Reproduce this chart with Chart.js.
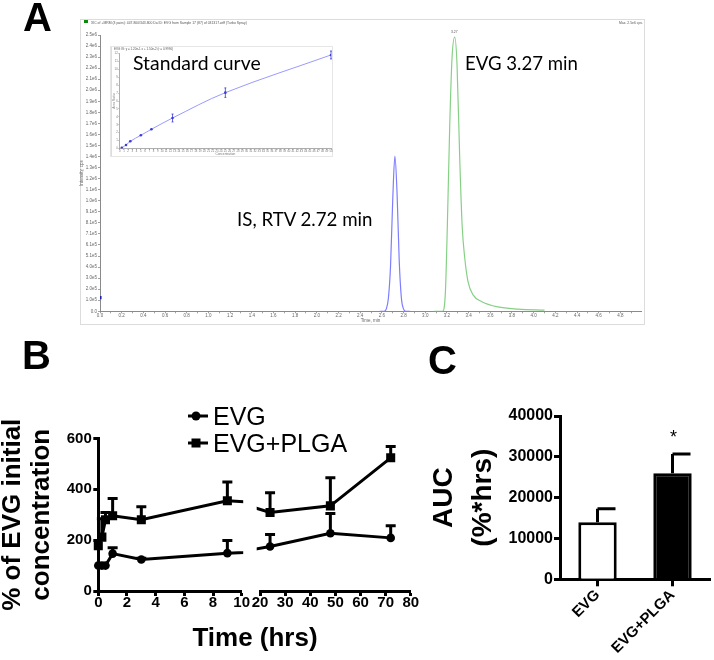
<!DOCTYPE html>
<html><head><meta charset="utf-8">
<script src="https://cdn.jsdelivr.net/npm/chart.js@4.4.1/dist/chart.umd.min.js"></script>
<style>
html,body{margin:0;padding:0;background:#fff;}
body{width:714px;height:660px;position:relative;overflow:hidden;font-family:"Liberation Sans",Arial,sans-serif;}
canvas.full{position:absolute;left:0;top:0;}
.t{position:absolute;white-space:nowrap;line-height:1;}
.tiny{position:absolute;white-space:nowrap;line-height:1;font-family:"Liberation Sans",Arial,sans-serif;color:#555;font-size:10px;transform-origin:left top;}
.lbl{font-weight:bold;font-size:40px;color:#000;}
.ann{font-family:Lato,"Open Sans",sans-serif;font-size:20px;color:#000;transform-origin:left top;}
</style></head><body>
<div style="position:absolute;left:80px;top:19px;width:563px;height:304px;border:1px solid #dcdcdc;"></div>
<div style="position:absolute;left:84px;top:20px;width:4px;height:3px;background:#0a8a0a;"></div>
<canvas id="cA" class="full" width="714" height="660"></canvas>
<div style="position:absolute;left:110px;top:46px;width:221px;height:109px;border:1px solid #e6e6e6;background:#fff;"></div>
<div style="position:absolute;left:111px;top:47px;width:1px;height:109px;background:#f2dcae;"></div>
<canvas id="cIn" class="full" width="714" height="660"></canvas>
<canvas id="cB1" class="full" width="714" height="660"></canvas>
<canvas id="cB2" class="full" width="714" height="660"></canvas>
<canvas id="cC" class="full" width="714" height="660"></canvas>

<div class="t lbl" style="left:23px;top:-3px;">A</div>
<div class="t lbl" style="left:22px;top:335px;">B</div>
<div class="t lbl" style="left:428px;top:340px;">C</div>

<div class="tiny" style="left:91px;top:21px;transform:scale(0.34);">XIC of +MRM (3 pairs): 447.800/343.800 Da ID: EVG from Sample 17 (87) of 031317.wiff (Turbo Spray)</div>
<div class="tiny" style="left:619px;top:21px;transform:scale(0.34);">Max. 2.5e6 cps.</div>
<div class="tiny" style="left:451px;top:30px;transform:scale(0.34);">3.27</div>
<div class="tiny" style="left:114px;top:47.5px;transform:scale(0.3);">EVG IS: y = 1.20e-1 x + 1.50e-2 (r = 0.9990)</div>

<div class="t ann" style="left:133px;top:51.5px;transform:scaleX(0.97);">Standard curve</div>
<div class="t ann" style="left:464.5px;top:51.5px;transform:scaleX(0.93);">EVG 3.27 min</div>
<div class="t ann" style="left:237px;top:207.5px;transform:scaleX(0.935);">IS, RTV 2.72 min</div>

<svg style="position:absolute;left:185px;top:406px" width="26" height="46">
  <line x1="3" y1="10" x2="23" y2="10" stroke="#000" stroke-width="3"/>
  <circle cx="11" cy="10" r="4.5" fill="#000"/>
  <line x1="3" y1="37" x2="23" y2="37" stroke="#000" stroke-width="3"/>
  <rect x="6.5" y="32.5" width="9" height="9" fill="#000"/>
</svg>
<div class="t" style="left:213px;top:404px;font-size:25px;">EVG</div>
<div class="t" style="left:213px;top:431px;font-size:25px;">EVG+PLGA</div>
<div class="t" style="left:155px;top:624px;width:200px;text-align:center;font-size:26px;font-weight:bold;">Time (hrs)</div>
<div class="t" style="left:670px;top:428px;font-size:18px;">*</div>

<script>
// ---------- Panel A: chromatogram ----------
const isTime = [2.58, 2.62, 2.64, 2.66, 2.68, 2.70, 2.72, 2.74, 2.76, 2.78, 2.80, 2.82, 2.86];
const isIntensity = [0, 0, 0.02e6, 0.12e6, 0.42e6, 1.02e6, 1.42e6, 1.08e6, 0.46e6, 0.12e6, 0.02e6, 0, 0];
const evgTime = [3.08, 3.16, 3.186, 3.204, 3.226, 3.247, 3.272, 3.293, 3.318, 3.34, 3.364, 3.395, 3.441, 3.518, 3.67, 3.856, 4.10];
const evgIntensity = [0, 0, 0.18e6, 0.79e6, 1.71e6, 2.32e6, 2.51e6, 2.26e6, 1.40e6, 0.79e6, 0.49e6, 0.27e6, 0.15e6, 0.09e6, 0.04e6, 0.02e6, 0.01e6];
const markerTime = [0];
const markerIntensity = [1.25e5];

// ---------- Panel A inset: standard curve ----------
const stdConc = [0.5, 1.5, 2.5, 5, 7.5, 12.5, 25, 50];
const stdRatio = [0.10, 0.44, 0.91, 1.67, 2.43, 3.86, 7.07, 11.84];
const stdErr = [0, 0, 0, 0, 0, 0.5, 0.6, 0.5];

// ---------- Panel B: % of EVG initial concentration ----------
const timeHrs = [0, 0.25, 0.5, 1, 3, 9, 24, 48, 72];
const evgPct = [100, 100, 100, 147, 124, 149, 175, 227, 209];
const evgSD = [0, 0, 0, 23, 5, 50, 47, 78, 48];
const plgaPct = [178, 212, 280, 296, 280, 355, 309, 335, 524];
const plgaSD = [0, 72, 29, 68, 51, 74, 78, 111, 45];
const bYTicks = [0, 200, 400, 600];
const bLeftXTicks = [0, 2, 4, 6, 8, 10];
const bRightXTicks = [20, 30, 40, 50, 60, 70, 80];

// ---------- Panel C: AUC ----------
const aucGroups = ['EVG', 'EVG+PLGA'];
const aucMean = [14000, 26000];
const aucSD = [3300, 4700];
const cYTicks = [0, 10000, 20000, 30000, 40000];

const W = 714, H = 660;
const FONT = "'Liberation Sans', Arial, sans-serif";

function pts(xs, ys) { return xs.map((x, i) => ({x: x, y: ys[i]})); }
function pad(l, t, r, b, yW, xH) {
  return {padding: {left: l - yW, top: t, right: W - r, bottom: H - b - xH}};
}
function fixTicks(list) { return s => { s.ticks = list.map(v => ({value: v})); }; }

const errorBars = {
  id: 'errorBars',
  afterDatasetsDraw(chart) {
    const ctx = chart.ctx, area = chart.chartArea;
    chart.data.datasets.forEach((ds, i) => {
      if (!ds.errorUp) return;
      const meta = chart.getDatasetMeta(i);
      const ys = chart.scales[meta.yAxisID];
      const o = ds.errorStyle || {};
      ctx.save();
      ctx.strokeStyle = o.color || '#000';
      ctx.lineWidth = o.width || 3;
      meta.data.forEach((el, j) => {
        const up = ds.errorUp[j] || 0;
        const lo = ds.errorDown ? (ds.errorDown[j] || 0) : 0;
        if (!up && !lo) return;
        if (el.x < area.left - 1 || el.x > area.right + 1) return;
        const v = meta.controller.getParsed(j).y;
        const yTop = ys.getPixelForValue(v + up);
        const yBot = ys.getPixelForValue(v - lo);
        const cap = o.cap || 10;
        const cl = o.capAlign === 'right' ? 0 : cap / 2;
        const cr = o.capAlign === 'right' ? cap : cap / 2;
        ctx.beginPath();
        ctx.moveTo(el.x, yBot); ctx.lineTo(el.x, yTop);
        if (up) { ctx.moveTo(el.x - cl, yTop); ctx.lineTo(el.x + cr, yTop); }
        if (lo) { ctx.moveTo(el.x - cl, yBot); ctx.lineTo(el.x + cr, yBot); }
        ctx.stroke();
      });
      ctx.restore();
    });
  }
};
Chart.register(errorBars);

const base = {responsive: false, animation: false, devicePixelRatio: 1,
  plugins: {legend: {display: false}, tooltip: {enabled: false}}};

// ----- Chart A -----
const aGray = '#8a8a8a';
new Chart(document.getElementById('cA'), {
  type: 'line',
  data: {datasets: [
    {data: pts(isTime, isIntensity), borderColor: '#7d7dff', borderWidth: 1.2, pointRadius: 0, cubicInterpolationMode: 'monotone'},
    {data: pts(evgTime, evgIntensity), borderColor: '#86d086', borderWidth: 1.2, pointRadius: 0, cubicInterpolationMode: 'monotone'},
    {data: pts(markerTime, markerIntensity), showLine: false, pointStyle: 'rect', pointRadius: 2.2, pointBackgroundColor: '#1c1caa', pointBorderWidth: 0}
  ]},
  options: Object.assign({}, base, {
    layout: pad(100, 35, 641, 311.3, 21, 12),
    scales: {
      x: {type: 'linear', min: 0, max: 4.99,
        afterFit: s => { s.height = 12; },
        border: {display: true, color: aGray, width: 1},
        grid: {display: true, drawOnChartArea: false, tickLength: 2, tickColor: aGray, tickWidth: 0.8},
        ticks: {stepSize: 0.1, includeBounds: false, autoSkip: false, maxRotation: 0, padding: 0,
          font: {size: 4.5, family: FONT}, color: '#666',
          callback: v => (Math.round(v * 10) % 2 === 0) ? v.toFixed(1) : ''},
        title: {display: true, text: 'Time, min', font: {size: 4.5, family: FONT}, color: '#666', padding: 0}
      },
      y: {min: 0, max: 2.53e6,
        afterFit: s => { s.width = 21; },
        border: {display: true, color: aGray, width: 1},
        grid: {display: true, drawOnChartArea: false, tickLength: 2, tickColor: aGray, tickWidth: 0.8},
        ticks: {stepSize: 1e5, includeBounds: false, autoSkip: false, padding: 1,
          font: {size: 4.5, family: FONT}, color: '#666',
          callback: v => v === 0 ? '0.0' : v.toExponential(1).replace('e+', 'e')},
        title: {display: true, text: 'Intensity, cps', font: {size: 4.5, family: FONT}, color: '#666', padding: 0}
      }
    }
  })
});

// ----- Inset -----
const inBlue = '#3a3ad6';
new Chart(document.getElementById('cIn'), {
  type: 'line',
  data: {datasets: [
    {data: pts(stdConc, stdRatio), borderColor: '#9a9aff', borderWidth: 1, tension: 0.35,
      pointRadius: 1.3, pointBackgroundColor: inBlue, pointBorderWidth: 0,
      errorUp: stdErr, errorDown: stdErr, errorStyle: {color: inBlue, width: 0.8, cap: 2}}
  ]},
  options: Object.assign({}, base, {
    layout: pad(119.7, 53.7, 331, 148.5, 8, 8),
    scales: {
      x: {type: 'linear', min: 0, max: 50,
        afterFit: s => { s.height = 8; },
        border: {display: true, color: '#999', width: 0.8},
        grid: {display: true, drawOnChartArea: false, tickLength: 1.5, tickColor: '#999', tickWidth: 0.6},
        ticks: {stepSize: 1, autoSkip: false, maxRotation: 0, padding: 0, font: {size: 2.8, family: FONT}, color: '#777'},
        title: {display: true, text: 'Concentration', font: {size: 3.2, family: FONT}, color: '#777', padding: 0}
      },
      y: {min: 0, max: 12,
        afterFit: s => { s.width = 8; },
        border: {display: true, color: '#999', width: 0.8},
        grid: {display: true, drawOnChartArea: false, tickLength: 1.5, tickColor: '#999', tickWidth: 0.6},
        ticks: {stepSize: 1, autoSkip: false, padding: 0.5, font: {size: 2.8, family: FONT}, color: '#777'},
        title: {display: true, text: 'Area Ratio', font: {size: 3.2, family: FONT}, color: '#777', padding: 0}
      }
    }
  })
});

// ----- Panel B -----
function bDatasets(clip) {
  return [
    {data: pts(timeHrs, evgPct), borderColor: '#000', borderWidth: 3, pointStyle: 'circle', pointRadius: 4.3,
      pointBackgroundColor: '#000', pointBorderWidth: 0, clip: clip, errorUp: evgSD, errorStyle: {cap: 10, width: 3}},
    {data: pts(timeHrs, plgaPct), borderColor: '#000', borderWidth: 3, pointStyle: 'rect', pointRadius: 6.4,
      pointBackgroundColor: '#000', pointBorderWidth: 0, clip: clip, errorUp: plgaSD, errorStyle: {cap: 10, width: 3}}
  ];
}
const prismTickFont = {size: 15, weight: 'bold', family: FONT};
function prismGrid(len) { return {display: true, drawOnChartArea: false, tickLength: len, tickColor: '#000', tickWidth: 3}; }
const prismBorder = {display: true, color: '#000', width: 3};

new Chart(document.getElementById('cB1'), {
  type: 'line',
  data: {datasets: bDatasets({left: 8, top: 8, right: 1.5, bottom: 8})},
  options: Object.assign({}, base, {
    layout: pad(98.3, 438.5, 241.7, 591, 98.3, 22),
    scales: {
      x: {type: 'linear', min: 0, max: 10, afterFit: s => { s.height = 22; }, afterBuildTicks: fixTicks(bLeftXTicks),
        border: prismBorder, grid: prismGrid(5),
        ticks: {autoSkip: false, maxRotation: 0, padding: -2, font: prismTickFont, color: '#000'}},
      y: {min: 0, max: 600, afterFit: s => { s.width = 98.3; }, afterBuildTicks: fixTicks(bYTicks),
        border: prismBorder, grid: prismGrid(5),
        ticks: {autoSkip: false, padding: 1.5, font: prismTickFont, color: '#000'},
        title: {display: true, text: ['% of EVG initial', 'concentration'], color: '#000',
          font: {size: 26, weight: 'bold', family: FONT, lineHeight: 1.12}, padding: {top: -1.5, bottom: 0}}}
    }
  })
});

new Chart(document.getElementById('cB2'), {
  type: 'line',
  data: {datasets: bDatasets({left: 3.3, top: 8, right: 8, bottom: 8})},
  options: Object.assign({}, base, {
    layout: pad(260, 438.5, 410.8, 591, 0, 22),
    scales: {
      x: {type: 'linear', min: 20, max: 80, afterFit: s => { s.height = 22; }, afterBuildTicks: fixTicks(bRightXTicks),
        border: prismBorder, grid: prismGrid(5),
        ticks: {autoSkip: false, maxRotation: 0, padding: -2, font: prismTickFont, color: '#000'}},
      y: {display: false, min: 0, max: 600}
    }
  })
});

// ----- Panel C -----
new Chart(document.getElementById('cC'), {
  type: 'bar',
  data: {labels: aucGroups, datasets: [
    {data: aucMean, backgroundColor: ['#fff', '#000'], borderColor: '#000', borderWidth: 3, borderSkipped: 'bottom',
      barPercentage: 0.64, categoryPercentage: 0.8,
      errorUp: aucSD, errorStyle: {cap: 18, width: 3, capAlign: 'right'}}
  ]},
  options: Object.assign({}, base, {
    layout: pad(560, 416, 710, 579.3, 135.5, 80),
    scales: {
      x: {afterFit: s => { s.height = 80; },
        border: prismBorder, grid: Object.assign(prismGrid(7), {offset: false}),
        ticks: {autoSkip: false, minRotation: 45, maxRotation: 45, padding: 0, font: prismTickFont, color: '#000'}},
      y: {min: 0, max: 40000, afterFit: s => { s.width = 135.5; }, afterBuildTicks: fixTicks(cYTicks),
        border: prismBorder, grid: prismGrid(6),
        ticks: {autoSkip: false, padding: 1, font: {size: 16, weight: 'bold', family: FONT}, color: '#000',
          callback: v => String(v)},
        title: {display: true, text: ['AUC', '(%*hrs)'], color: '#000',
          font: {size: 28, weight: 'bold', family: FONT, lineHeight: 1.393}, padding: 0}}
    }
  })
});
</script>
</body></html>
